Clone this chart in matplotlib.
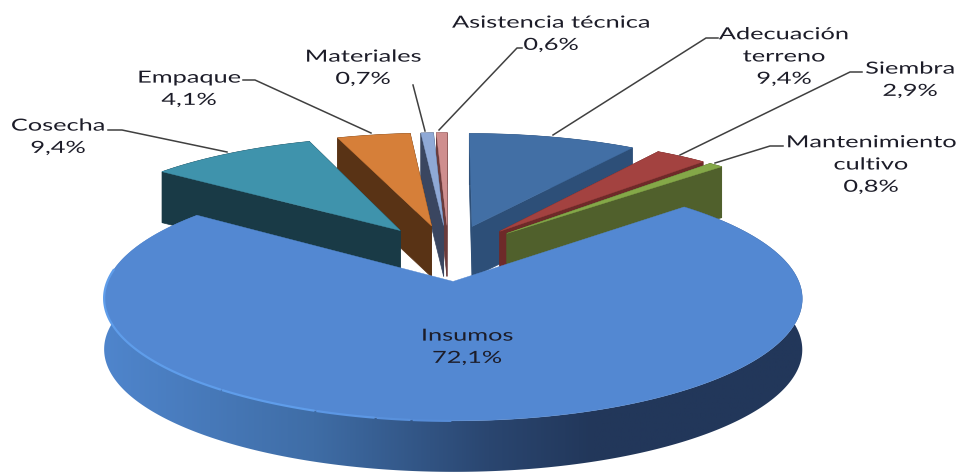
import numpy as np
import matplotlib
matplotlib.use("Agg")
import matplotlib.pyplot as plt
from matplotlib.colors import LinearSegmentedColormap
from matplotlib.patheffects import AbstractPathEffect
from matplotlib.transforms import Affine2D

# Data, clockwise from 12 o'clock
names = ["Adecuación\nterreno", "Siembra", "Mantenimiento\ncultivo", "Insumos",
         "Cosecha", "Empaque", "Materiales", "Asistencia técnica"]
values = [9.4, 2.9, 0.8, 72.1, 9.4, 4.1, 0.7, 0.6]
top_colors = ["#426FA5", "#A34240", "#84A848", "#5388D2",
              "#3F93AC", "#D67F39", "#8FA9D6", "#CF8E8E"]
side_colors = ["#2D4F78", "#6E2A29", "#50602C", "#2D4A74",
               "#193A46", "#593315", "#3A4660", "#6B3B3B"]
draw_order = [0, 1, 2, 7, 6, 5, 4, 3]

# label centre x, first line centre y, leader line
label_x = [784, 910, 871, 467, 58, 189, 363, 551]
label_y = [33, 68, 141, 335, 125, 77, 56, 22]
leaders = [[(553, 135), (706, 38), (718, 38)],
           [(680, 155), (850, 72), (862, 72)],
           [(715, 163), (770, 146), (783, 146)],
           None,
           [(108, 130), (122, 130), (227, 152)],
           [(243, 80), (255, 80), (371, 133)],
           [(413, 85), (425, 131)],
           [(439, 130), (517, 48), (522, 48)]]

# Projection of the pie plane to pixels
CX, CY = 448.5, 252.5
A, B = 334.0, 112.0
K = 0.135
EXPLODE = 0.25
DEPTH = 51.0


def project(u, v):
    w = 1 + K * v
    return CX + A * u / w, CY - B * v / w


class StretchX(AbstractPathEffect):
    """Widen text around a pixel column, the original chart is stretched."""

    def __init__(self, cx, sx):
        super().__init__()
        self.cx = cx
        self.sx = sx

    def draw_path(self, renderer, gc, tpath, affine, rgbFace=None):
        t = affine + Affine2D().translate(-self.cx, 0).scale(self.sx, 1).translate(self.cx, 0)
        renderer.draw_path(gc, tpath, t, rgbFace)


fig = plt.figure(figsize=(9.59, 4.73), dpi=100)
ax = fig.add_axes([0, 0, 1, 1])

edges = np.radians(np.concatenate([[0], np.cumsum(values)]) * 3.6)

for z, i in enumerate(draw_order):
    a0, a1 = edges[i], edges[i + 1]
    mid = (a0 + a1) / 2
    cu, cv = EXPLODE * np.sin(mid), EXPLODE * np.cos(mid)
    t = np.linspace(a0, a1, 400)
    arc_x, arc_y = project(cu + np.sin(t), cv + np.cos(t))
    ap_x, ap_y = project(cu, cv)

    if names[i] == "Insumos":
        # outer wall with a left to right gradient
        wall = ax.fill(np.r_[arc_x, arc_x[::-1]], np.r_[arc_y, arc_y[::-1] + DEPTH],
                       color="none", lw=0, zorder=z + 10)[0]
        cmap = LinearSegmentedColormap.from_list(
            "wall", [(0, "#4F85CC"), (0.3, "#3F6DA6"), (0.55, "#2A4670"),
                     (0.7, "#22375A"), (1, "#22375A")])
        im = ax.imshow(np.linspace(0, 1, 256)[None, :], cmap=cmap, aspect="auto",
                       extent=(arc_x.min(), arc_x.max(), 473, 150), zorder=z + 10)
        im.set_clip_path(wall)
    else:
        # cut faces and outer wall all in one colour
        ax.fill([ap_x, arc_x[0], arc_x[0], ap_x],
                [ap_y, arc_y[0], arc_y[0] + DEPTH, ap_y + DEPTH],
                color=side_colors[i], lw=0.5, zorder=z + 10)
        ax.fill([ap_x, arc_x[-1], arc_x[-1], ap_x],
                [ap_y, arc_y[-1], arc_y[-1] + DEPTH, ap_y + DEPTH],
                color=side_colors[i], lw=0.5, zorder=z + 10)
        ax.fill(np.r_[arc_x, arc_x[::-1]], np.r_[arc_y, arc_y[::-1] + DEPTH],
                color=side_colors[i], lw=0.5, zorder=z + 10)

    ax.fill(np.r_[ap_x, arc_x], np.r_[ap_y, arc_y], color=top_colors[i], lw=0.3, zorder=z + 10.5)

    if names[i] == "Insumos":
        # light rim on the near left edge, fading out towards the middle
        rim_colors = ["#5F9DEA", "#5F9DEA", "#5C97E4", "#5991DC", "#568CD7"]
        rim_limits = [-1.0, -0.6, -0.35, -0.2, -0.1, 0.0]
        for k, col in enumerate(rim_colors):
            seg = (np.cos(t) < 0.1) & (np.sin(t) >= rim_limits[k]) & (np.sin(t) < rim_limits[k + 1])
            ax.plot(arc_x[seg], arc_y[seg], color=col, lw=1.6, zorder=z + 10.6)

for pts in leaders:
    if pts is None:
        continue
    xs, ys = zip(*pts)
    ax.plot(xs, ys, color="#404040", lw=1.1, zorder=30)

for i, name in enumerate(names):
    pct = f"{values[i]:.1f}".replace(".", ",") + "%"
    n_lines = name.count("\n") + 2
    yc = label_y[i] + 23.5 * (n_lines - 1) / 2
    ax.text(label_x[i], yc, name + "\n" + pct, ha="center", va="center", ma="center",
            family="Lato", fontsize=12, color="#1C1C28", linespacing=1.48, zorder=40,
            path_effects=[StretchX(label_x[i], 1.52)])

ax.set_xlim(0, 959)
ax.set_ylim(473, 0)
ax.axis("off")

fig.savefig("out.png", dpi=100, facecolor="white")
